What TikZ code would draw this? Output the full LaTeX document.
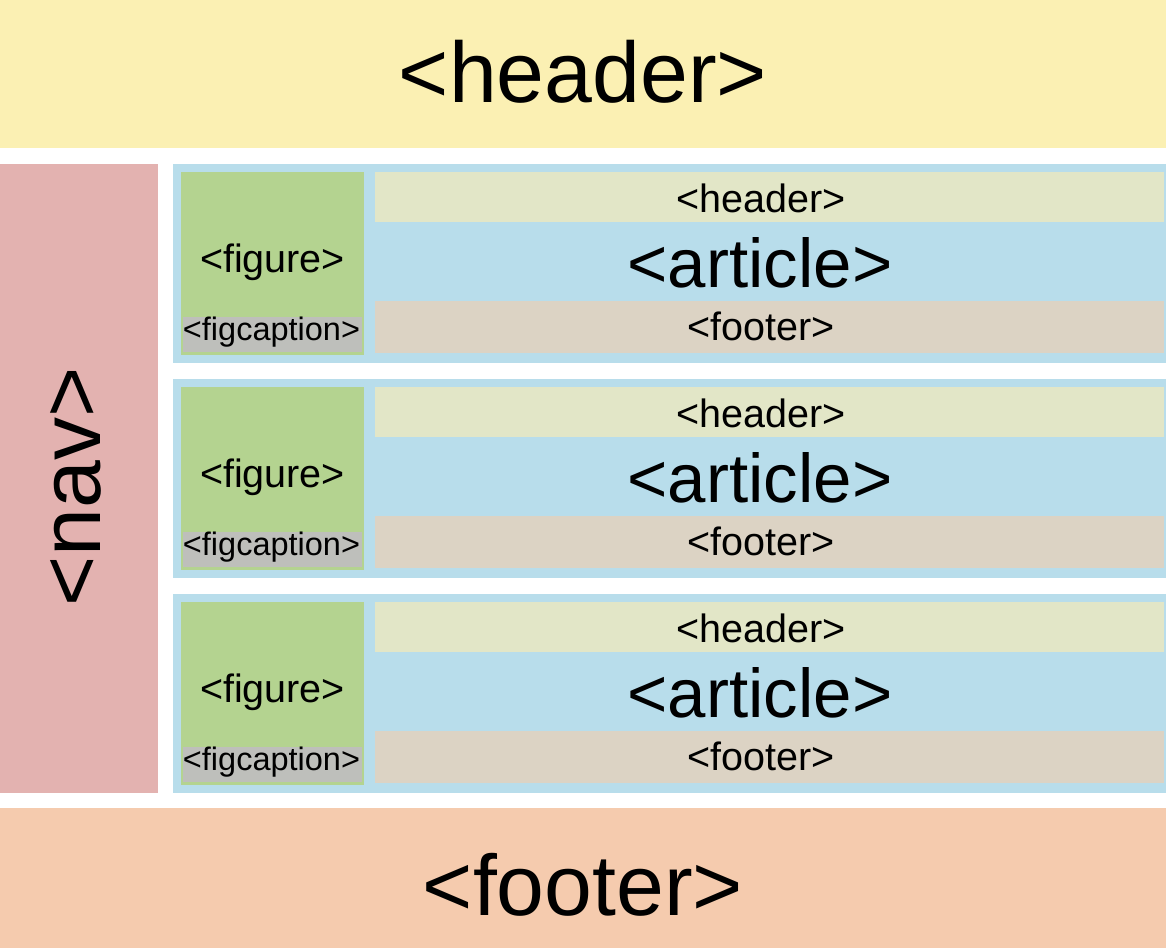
\documentclass[tikz,border=0pt]{standalone}
\usepackage{fontspec}
\setmainfont{Liberation Sans}
\usepackage{tikz}

\definecolor{hdrcol}{HTML}{FBF0B3}
\definecolor{navcol}{HTML}{E3B2B0}
\definecolor{ftrcol}{HTML}{F5CBAE}
\definecolor{artcol}{HTML}{B8DDEB}
\definecolor{figcol}{HTML}{B4D390}
\definecolor{capcol}{HTML}{BEBFBB}
\definecolor{ahdcol}{HTML}{E2E6C7}
\definecolor{aftcol}{HTML}{DCD3C4}

\begin{document}
\begin{tikzpicture}
            [x=1pt,y=-1pt,every node/.style={rectangle,inner sep=0pt,outer sep=0pt},
             big/.style={anchor=base,font=\fontsize{86}{86}\selectfont},
             mid/.style={anchor=base,font=\fontsize{69}{69}\selectfont},
             small/.style={anchor=base,font=\fontsize{39.5}{40}\selectfont},
             tiny/.style={anchor=base,font=\fontsize{32.5}{33}\selectfont}]
            \useasboundingbox (0,0) rectangle (1166,948);
            % page
            \node[fill=hdrcol,minimum width=1166pt,minimum height=148pt] (hdr) at (583,74) {};
            \node[fill=navcol,minimum width=158pt,minimum height=629pt] (nav) at (79,478.5) {};
            \node[fill=ftrcol,minimum width=1166pt,minimum height=140pt] (ftr) at (583,878) {};
            \node[big] (hdrtxt) at (583,102) {<header>};
            \node[big,rotate=90] (navtxt) at (100,487) {<nav>};
            \node[big] (ftrtxt) at (583,915) {<footer>};
            % articles
            \foreach \i/\t in {1/164,2/379,3/594}{
                \node[fill=artcol,minimum width=993pt,minimum height=199pt] (art\i) at (669.5,\t+99.5) {};
                \node[fill=figcol,minimum width=183pt,minimum height=183pt] (fig\i) at (272.5,\t+99.5) {};
                \node[fill=capcol,minimum width=179pt,minimum height=35pt] (cap\i) at (272.5,\t+170.5) {};
                \node[fill=ahdcol,minimum width=789pt,minimum height=50pt] (ahd\i) at (769.5,\t+33) {};
                \node[fill=aftcol,minimum width=789pt,minimum height=52pt] (aft\i) at (769.5,\t+163) {};
                \node[mid] (arttxt\i) at (760,\t+123) {<article>};
                \node[small] (ahdtxt\i) at (761,\t+48) {<header>};
                \node[small] (afttxt\i) at (761,\t+176) {<footer>};
                \node[small] (figtxt\i) at (272.5,\t+108) {<figure>};
                \node[tiny] (captxt\i) at (271.5,\t+176) {<figcaption>};
            }
        \end{tikzpicture}
\end{document}
